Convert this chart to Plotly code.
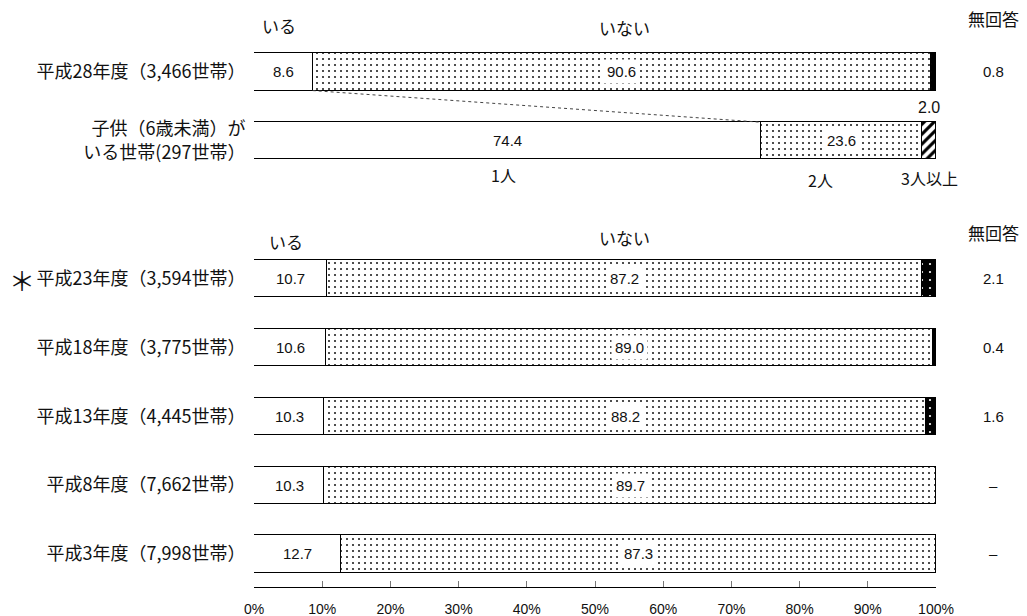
import plotly.graph_objects as go

# Survey rows, most recent first
year_labels = [
    "平成28年度（3,466世帯）",
    "平成23年度（3,594世帯）",
    "平成18年度（3,775世帯）",
    "平成13年度（4,445世帯）",
    "平成8年度（7,662世帯）",
    "平成3年度（7,998世帯）",
]
iru = [8.6, 10.7, 10.6, 10.3, 10.3, 12.7]          # いる
inai = [90.6, 87.2, 89.0, 88.2, 89.7, 87.3]        # いない
mukaito = [0.8, 2.1, 0.4, 1.6, None, None]         # 無回答

# Number of children under 6 in households that have them (平成28年度)
child_label = "子供（6歳未満）が<br>いる世帯(297世帯）"
child_groups = ["1人", "2人", "3人以上"]
child_values = [74.4, 23.6, 2.0]

tick_values = list(range(0, 101, 10))
tick_labels = [f"{v}%" for v in tick_values]

# Row layout: the 28年度 row, the children breakdown, a gap, then older surveys
year_rows = [0, 3, 4, 5, 6, 7]
child_row = 1
bar_w = 0.54

JP = "Noto Sans CJK JP"
NUM = "Liberation Sans"
INK = "#111111"
CLEAR = "rgba(0,0,0,0)"

# plot area in pixels (for placing things outside the axes in paper units)
PLOT_L, PLOT_R = 254, 936


def paper_x(px):
    return (px - PLOT_L) / (PLOT_R - PLOT_L)


outline = dict(color="black", width=1.5)
dots = dict(shape=".", size=6, solidity=0.1, fgcolor="#222222", bgcolor="white", fillmode="replace")

fig = go.Figure()
fig.add_trace(go.Bar(y=year_rows, x=iru, orientation="h", width=bar_w,
                     marker=dict(color="white", line=outline), name="いる"))
fig.add_trace(go.Bar(y=year_rows, x=inai, orientation="h", width=bar_w,
                     marker=dict(color="white", line=outline, pattern=dots), name="いない"))
fig.add_trace(go.Bar(y=year_rows, x=mukaito, orientation="h", width=bar_w,
                     marker=dict(color="black", line=outline,
                                 pattern=dict(shape=".", size=8, solidity=0.06, fgcolor="white",
                                              bgcolor="black", fillmode="replace")),
                     name="無回答"))
fig.add_trace(go.Bar(y=[child_row], x=[child_values[0]], orientation="h", width=bar_w,
                     marker=dict(color="white", line=outline), name=child_groups[0]))
fig.add_trace(go.Bar(y=[child_row], x=[child_values[1]], orientation="h", width=bar_w,
                     marker=dict(color="white", line=outline, pattern=dots), name=child_groups[1]))
fig.add_trace(go.Bar(y=[child_row], x=[child_values[2]], orientation="h", width=bar_w,
                     marker=dict(color="white", line=outline,
                                 pattern=dict(shape="/", size=7, solidity=0.45, fgcolor="black",
                                              bgcolor="white", fillmode="replace")),
                     name=child_groups[2]))

# an overlaid axis that only draws the short upward ticks on the baseline
fig.add_trace(go.Scatter(x=[0, 100], y=[child_row, child_row], xaxis="x2", mode="none",
                         hoverinfo="skip", showlegend=False))

ann = []


def label(x, y, text, size=15, font=NUM, bg=None, xshift=0, yshift=0, xref="x"):
    a = dict(x=x, y=y, xref=xref, yref="y", text=text, showarrow=False,
             xanchor="center", yanchor="middle",
             font=dict(family=font, size=size, color=INK), xshift=xshift, yshift=yshift)
    if bg:
        a.update(bgcolor=bg, borderpad=3)
    ann.append(a)


# values inside the survey bars
for r, a_val, b_val in zip(year_rows, iru, inai):
    label(a_val / 2, r, f"{a_val:.1f}")
    label(a_val + b_val / 2, r, f"{b_val:.1f}", bg="white")

# 無回答 column on the right
right_x = paper_x(993)
for r, v in zip(year_rows, mukaito):
    label(right_x, r, f"{v:.1f}" if v is not None else "–", size=15, xref="paper")

# headers above the 28年度 row and the 23年度 row
for r, idx, shifts in [(year_rows[0], 0, (46, 44, 53)), (year_rows[1], 1, (37, 41, 46))]:
    label(iru[idx] / 2, r, "いる", size=17, font=JP, xshift=-4, yshift=shifts[0])
    label(54.3, r, "いない", size=17, font=JP, yshift=shifts[1])
    label(right_x, r, "無回答", size=17, font=JP, yshift=shifts[2], xref="paper")

# children breakdown labels
c0, c1, c2 = child_values
label(c0 / 2, child_row, f"{c0:.1f}")
label(c0 + c1 / 2, child_row, f"{c1:.1f}", bg="white")
label(c0 + c1 + c2 / 2, child_row, f"{c2:.1f}", size=16, yshift=33)
label(c0 / 2, child_row, child_groups[0], size=16, font=JP, xshift=-4, yshift=-34)
label(83.0, child_row, child_groups[1], size=16, font=JP, yshift=-39)
label(c0 + c1 + c2 / 2, child_row, child_groups[2], size=16, font=JP, yshift=-37)

# asterisk marking the 23年度 survey
label(paper_x(22), year_rows[1], "＊", size=26, font=JP, xref="paper", yshift=-1)

# dotted guide from the いる segment down to the breakdown bar
shapes = [dict(type="line", xref="x", yref="y",
               x0=iru[0], y0=year_rows[0] + bar_w / 2,
               x1=child_values[0], y1=child_row - bar_w / 2,
               line=dict(color="#444444", width=1, dash="dot"))]

fig.update_layout(
    width=1027, height=616,
    margin=dict(l=PLOT_L, r=1027 - PLOT_R, t=20, b=29),
    paper_bgcolor="white", plot_bgcolor="white",
    barmode="stack", bargap=0, showlegend=False,
    annotations=ann, shapes=shapes,
    font=dict(family=JP, color=INK),
    # percent labels sit below the baseline; their own ticks are invisible spacers
    xaxis=dict(range=[0, 100], tickvals=tick_values, ticktext=tick_labels,
               ticks="outside", ticklen=9, tickcolor=CLEAR, automargin=False,
               showline=True, linecolor="black", linewidth=1.2,
               showgrid=False, zeroline=False,
               tickfont=dict(family=NUM, size=14, color=INK)),
    xaxis2=dict(range=[0, 100], overlaying="x", anchor="y", side="bottom",
                tickvals=tick_values, ticks="inside", ticklen=6, tickcolor="#777777",
                tickwidth=1, showticklabels=False, showline=False, automargin=False,
                showgrid=False, zeroline=False),
    yaxis=dict(range=[7.48, -0.755], tickvals=[year_rows[0], child_row] + year_rows[1:],
               ticktext=[year_labels[0], child_label] + year_labels[1:],
               showgrid=False, zeroline=False, showline=False, automargin=False,
               ticks="outside", ticklen=4, tickcolor=CLEAR,
               tickfont=dict(family=JP, size=18, color=INK)),
)

fig.write_html("out.html")
